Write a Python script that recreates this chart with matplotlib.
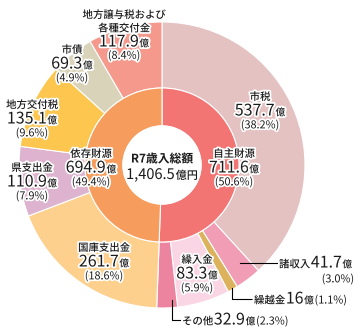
import matplotlib
matplotlib.use('Agg')
import matplotlib.pyplot as plt
import matplotlib.patheffects as pe
from matplotlib.offsetbox import TextArea, HPacker, AnnotationBbox

plt.rcParams['font.family'] = ['Noto Sans CJK JP', 'DejaVu Sans']

# 内側: 自主財源 / 依存財源
inner_names = ['自主財源', '依存財源']
inner_values = [711.6, 694.9]
inner_pcts = ['50.6', '49.4']
inner_colors = ['#F27473', '#F69C5D']

# 外側: 内訳 (上から時計回り)
outer_names = ['市税', '諸収入', '繰越金', '繰入金', 'その他',
               '国庫支出金', '県支出金', '地方交付税', '市債', '地方譲与税および\n各種交付金']
outer_values = [537.7, 41.7, 16, 83.3, 32.9, 261.7, 110.9, 135.1, 69.3, 117.9]
outer_pcts = ['38.2', '3.0', '1.1', '5.9', '2.3', '18.6', '7.9', '9.6', '4.9', '8.4']
outer_colors = ['#E4C2C2', '#F29DB6', '#DCB25C', '#FAD6E4', '#EC849F',
                '#FDD08D', '#DDB3CF', '#FDC64F', '#D9D4B9', '#F4998C']

total_label = '1,406.5'

W, H = 364, 335
fig = plt.figure(figsize=(W / 100, H / 100), dpi=100)
ax = fig.add_axes([0, 0, 1, 1])

cx, cy = 162, 165
R_out, R_mid, R_in = 143, 77, 39

# y軸を反転するので counterclock=True で画面上は時計回り
ax.pie(outer_values, colors=outer_colors, radius=R_out, center=(cx, cy),
       startangle=-90, counterclock=True, frame=True,
       wedgeprops=dict(width=R_out - R_mid, edgecolor='white', linewidth=0.8))
ax.pie(inner_values, colors=inner_colors, radius=R_mid, center=(cx, cy),
       startangle=-90, counterclock=True, frame=True,
       wedgeprops=dict(width=R_mid - R_in, edgecolor='white', linewidth=0.8))
ax.add_patch(plt.Circle((cx, cy), R_in, color='white', zorder=3))
ax.set_xlim(0, W)
ax.set_ylim(H, 0)
ax.set_aspect('equal')
ax.axis('off')

stroke = [pe.withStroke(linewidth=2.5, foreground='white')]

NAME, NUM, UNIT, PCT = 7.5, 11.5, 7, 7.8


def row(x, y, parts, align=(0.5, 0.5)):
    # parts: (text, fontsize, weight)
    boxes = [TextArea(t, textprops=dict(fontsize=s, color='#1a1a1a', fontweight=w,
                                         path_effects=stroke)) for t, s, w in parts]
    pack = HPacker(children=boxes, align='baseline', pad=0, sep=0.5)
    ab = AnnotationBbox(pack, (x, y), xycoords='data', box_alignment=align,
                        frameon=False, pad=0, zorder=5)
    ax.add_artist(ab)


def block(x, y, name, value, pct, dy=14):
    y0 = y
    for ln in name.split('\n'):
        row(x, y0, [(ln, NAME, 'medium')])
        y0 += dy
    row(x, y0, [(str(value), NUM, 'normal'), ('億', UNIT, 'medium')])
    row(x, y0 + dy, [('(' + pct + '%)', PCT, 'normal')])


# 内側ラベル
block(234, 154, inner_names[0], inner_values[0], inner_pcts[0])
block(91, 154, inner_names[1], inner_values[1], inner_pcts[1])

# 外側ラベル
block(260, 97, outer_names[0], outer_values[0], outer_pcts[0])
block(197, 260, outer_names[3], outer_values[3], outer_pcts[3])
block(104, 248, outer_names[5], outer_values[5], outer_pcts[5])
block(32, 168, outer_names[6], outer_values[6], outer_pcts[6])
block(32, 105, outer_names[7], outer_values[7], outer_pcts[7])
block(72, 50, outer_names[8], outer_values[8], outer_pcts[8])
block(124, 15, outer_names[9], outer_values[9], outer_pcts[9], dy=13.5)

# 中央
row(cx, 159, [('R7歳入総額', 8.5, 'bold')])
row(cx, 175, [(total_label, 10.5, 'normal'), ('億円', 8, 'medium')])

# 引き出し線ラベル
lw = 0.8
ax.plot([240, 277], [263, 263], color='black', lw=lw, zorder=4)
row(279, 263, [(outer_names[1], NAME, 'medium'), (str(outer_values[1]), NUM, 'normal'),
               ('億', UNIT, 'medium')], align=(0, 0.5))
row(354, 279, [('(' + outer_pcts[1] + '%)', PCT, 'normal')], align=(1, 0.5))

ax.plot([232, 232, 252], [288, 299, 299], color='black', lw=lw, zorder=4)
row(254, 299, [(outer_names[2], NAME, 'medium'), (str(outer_values[2]), NUM, 'normal'),
               ('億', UNIT, 'medium'), ('(' + outer_pcts[2] + '%)', PCT, 'normal')],
    align=(0, 0.5))

ax.plot([172, 172, 180], [300, 320, 320], color='black', lw=lw, zorder=4)
row(182, 320, [(outer_names[4], NAME, 'medium'), (str(outer_values[4]), NUM, 'normal'),
               ('億', UNIT, 'medium'), ('(' + outer_pcts[4] + '%)', PCT, 'normal')],
    align=(0, 0.5))

fig.savefig('out.png', dpi=100)
